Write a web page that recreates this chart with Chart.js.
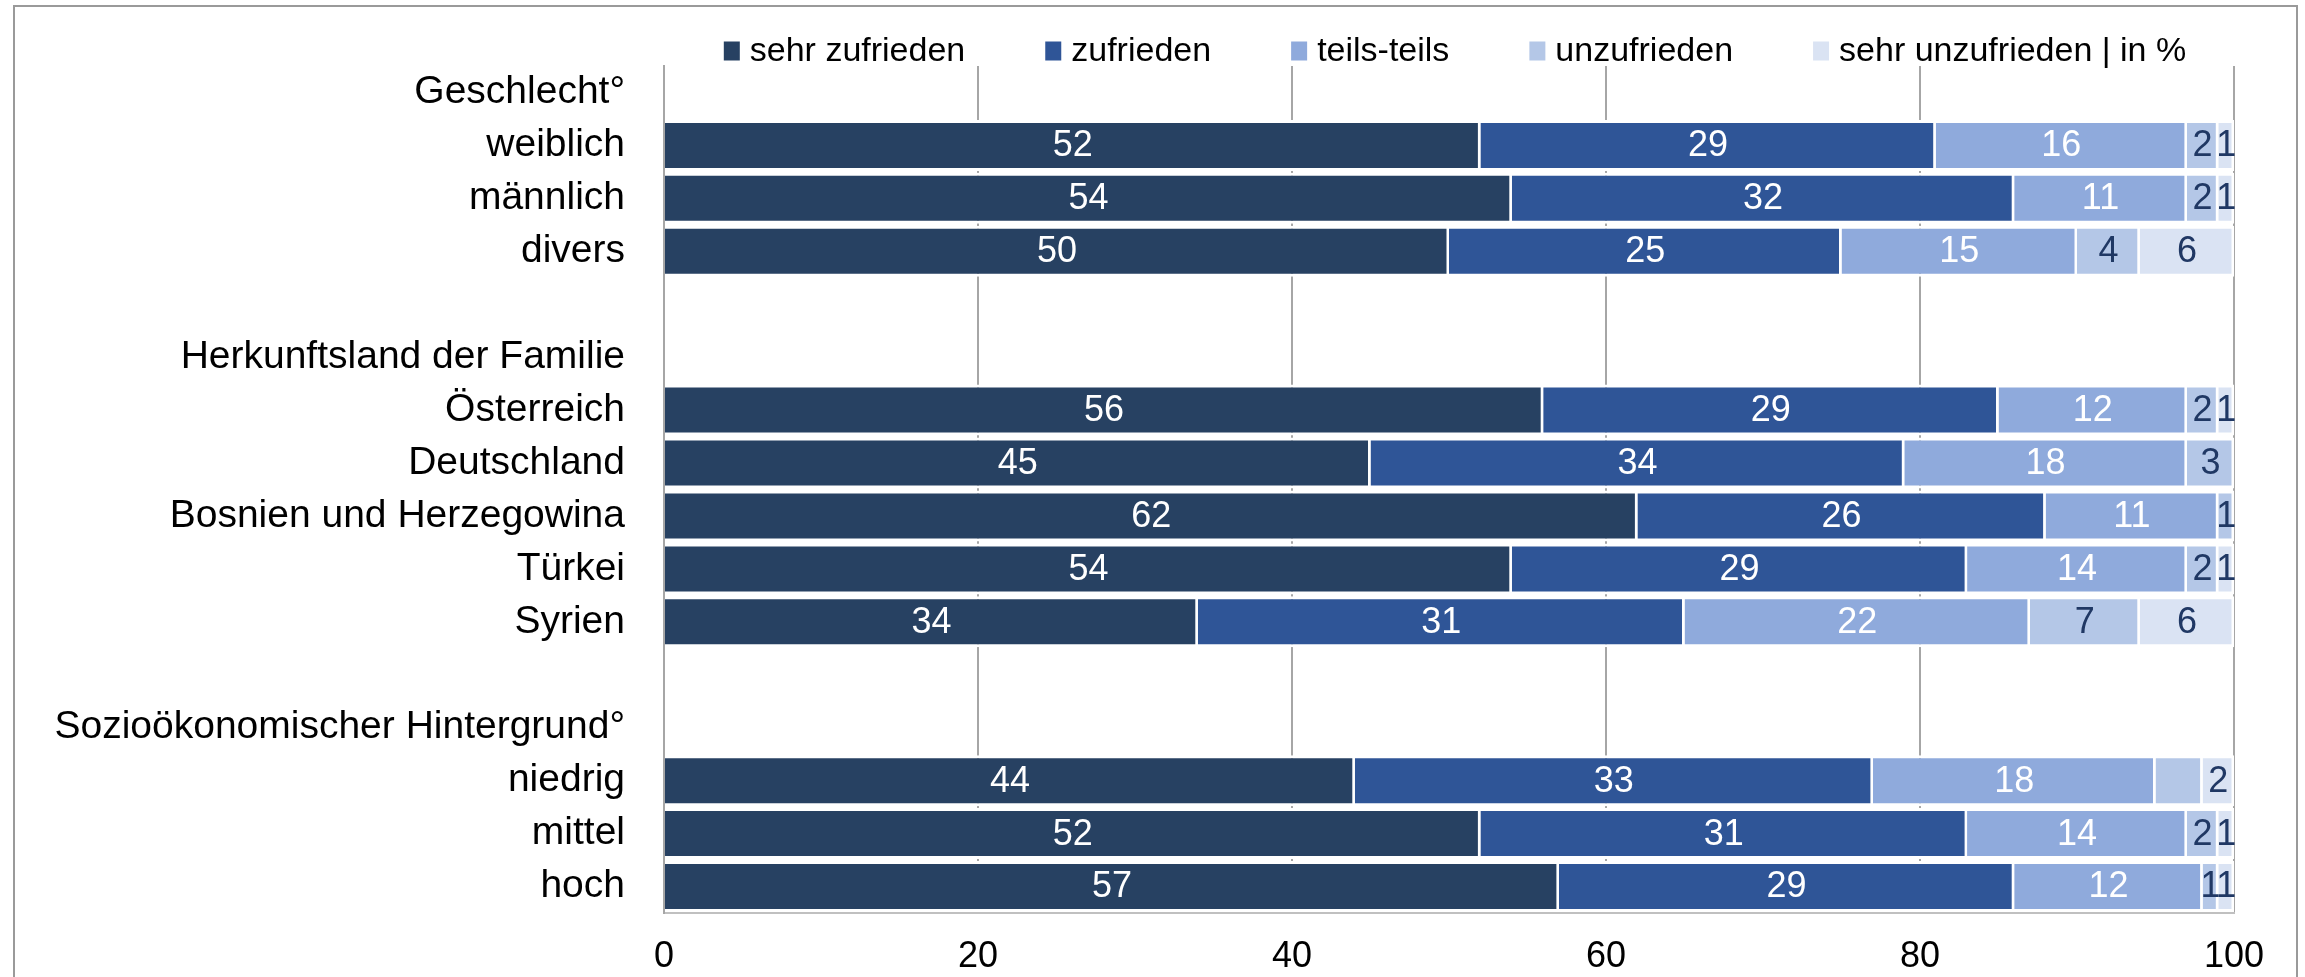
<!DOCTYPE html>
<html lang="de">
<head>
<meta charset="UTF-8">
<title>Zufriedenheit</title>
<script src="https://cdn.jsdelivr.net/npm/chart.js"></script>
<style>
  body { margin: 0; background: #fff; }
  #rahmen { position: absolute; left: 13px; top: 5px; width: 2285px; height: 1000px; border: 2px solid #9a9a9a; box-sizing: border-box; }
  #wrap { position: absolute; left: 0; top: 0; width: 2305px; height: 977px; }
</style>
</head>
<body>
<div id="rahmen"></div>
<div id="wrap"><canvas id="myChart" width="2305" height="977"></canvas></div>
<script>
// Zeilen (Leerzeilen trennen die Gruppen)
const categories = ['Geschlecht°', 'weiblich', 'männlich', 'divers', '',
  'Herkunftsland der Familie', 'Österreich', 'Deutschland', 'Bosnien und Herzegowina', 'Türkei', 'Syrien', '',
  'Sozioökonomischer Hintergrund°', 'niedrig', 'mittel', 'hoch'];

const seriesNames = ['sehr zufrieden', 'zufrieden', 'teils-teils', 'unzufrieden', 'sehr unzufrieden | in %'];

const sehrZufrieden   = [null, 52, 54, 50, null, null, 56, 45, 62, 54, 34, null, null, 44, 52, 57];
const zufrieden       = [null, 29, 32, 25, null, null, 29, 34, 26, 29, 31, null, null, 33, 31, 29];
const teilsTeils      = [null, 16, 11, 15, null, null, 12, 18, 11, 14, 22, null, null, 18, 14, 12];
const unzufrieden     = [null,  2,  2,  4, null, null,  2,  3,  1,  2,  7, null, null,  3,  2,  1];
const sehrUnzufrieden = [null,  1,  1,  6, null, null,  1,  0,  0,  1,  6, null, null,  2,  1,  1];

const xTicks = [0, 20, 40, 60, 80, 100];

// im Original ohne Beschriftung: [Serie, Zeile]
const hiddenLabels = [[3, 13]];

const colors = ['#274162', '#2F5597', '#8FAADC', '#B4C7E7', '#DAE3F3'];
const labelColors = ['#ffffff', '#ffffff', '#ffffff', '#203864', '#203864'];
const FONT = '"Liberation Sans", Arial, sans-serif';

Chart.defaults.font.family = FONT;
Chart.defaults.color = '#000';

// Datenbeschriftung mittig im Segment
const valueLabels = {
  id: 'valueLabels',
  afterDatasetsDraw(chart) {
    const ctx = chart.ctx;
    ctx.save();
    ctx.font = '36px ' + FONT;
    ctx.textAlign = 'center';
    ctx.textBaseline = 'middle';
    chart.data.datasets.forEach((ds, di) => {
      chart.getDatasetMeta(di).data.forEach((bar, i) => {
        const v = ds.data[i];
        if (!v) return;
        if (hiddenLabels.some(h => h[0] === di && h[1] === i)) return;
        const p = bar.getCenterPoint();
        ctx.fillStyle = labelColors[di];
        ctx.fillText(String(v), p.x, p.y + 1);
      });
    });
    ctx.restore();
  }
};

// Legende oben, über der Zeichenfläche zentriert
const topLegend = {
  id: 'topLegend',
  afterDraw(chart) {
    const ctx = chart.ctx;
    const area = chart.chartArea;
    const boxW = 16, boxH = 19, gap = 10, itemGap = 80, y = 51;
    ctx.save();
    ctx.font = '34px ' + FONT;
    ctx.textBaseline = 'middle';
    const items = chart.data.datasets.map(ds => ({
      text: ds.label, color: ds.backgroundColor, w: ctx.measureText(ds.label).width
    }));
    const total = items.reduce((s, it) => s + boxW + gap + it.w, 0) + itemGap * (items.length - 1);
    let x = (area.left + area.right) / 2 + 6 - total / 2;
    items.forEach(it => {
      ctx.fillStyle = it.color;
      ctx.fillRect(x, y - boxH / 2, boxW, boxH);
      ctx.fillStyle = '#000';
      ctx.fillText(it.text, x + boxW + gap, y + 1);
      x += boxW + gap + it.w + itemGap;
    });
    ctx.restore();
  }
};

const allSeries = [sehrZufrieden, zufrieden, teilsTeils, unzufrieden, sehrUnzufrieden];

const ctx = document.querySelector('#myChart');
const chart = new Chart(ctx, {
  type: 'bar',
  data: {
    labels: categories,
    datasets: allSeries.map((vals, i) => ({
      label: seriesNames[i],
      data: vals,
      backgroundColor: colors[i],
      borderColor: '#ffffff',
      borderWidth: { top: 3, bottom: 3, left: 0, right: 2.5 },
      borderSkipped: false,
      barPercentage: 0.964,
      categoryPercentage: 1
    }))
  },
  plugins: [valueLabels, topLegend],
  options: {
    indexAxis: 'y',
    responsive: false,
    animation: false,
    events: [],
    devicePixelRatio: 1,
    layout: { padding: { top: 66, right: 71, bottom: 0, left: 0 } },
    plugins: {
      legend: { display: false },
      tooltip: { enabled: false }
    },
    scales: {
      x: {
        stacked: true,
        min: 0,
        max: 100,
        afterBuildTicks(scale) { scale.ticks = xTicks.map(v => ({ value: v })); },
        afterFit(scale) { scale.height = 64; },
        ticks: { font: { size: 36 }, padding: 22, color: '#000' },
        grid: { color: '#a6a6a6', lineWidth: 2, drawTicks: false },
        border: { color: '#c0c0c0', width: 2, z: 1 }
      },
      y: {
        stacked: true,
        afterFit(scale) { scale.width = 664; },
        ticks: { font: { size: 39 }, padding: 39, color: '#000', autoSkip: false },
        grid: { display: false, drawTicks: false },
        border: { color: '#a6a6a6', width: 2, z: 1 }
      }
    }
  }
});
</script>
</body>
</html>
